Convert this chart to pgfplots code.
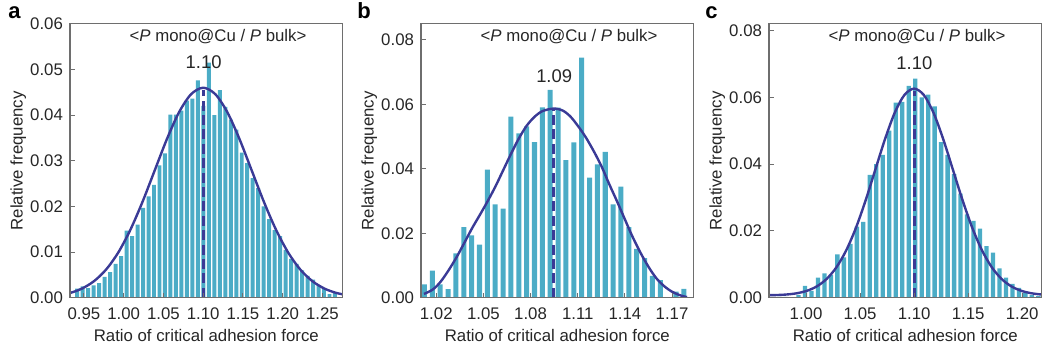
\documentclass[border=0pt]{standalone}
\usepackage{fontspec}
\setmainfont{Liberation Sans}
\usepackage{pgfplots}
\pgfplotsset{compat=1.18}
\definecolor{barc}{RGB}{75,172,198}
\definecolor{fitc}{RGB}{58,58,150}
\definecolor{axc}{RGB}{110,110,110}
\pgfplotsset{
 hist/.style={
  scale only axis, width=136.3pt, height=137pt, anchor=south west,
  axis on top,
  axis line style={axc, line width=0.6pt},
  tick style={axc, line width=0.5pt},
  tick align=inside, xtick pos=bottom, ytick pos=left,
  major tick length=2.5pt,
  ymin=0,
  font=\fontsize{8.4pt}{10pt}\selectfont,
  tick label style={text=black!85},
  /pgf/number format/assume math mode=true,
  xticklabel style={yshift=-1.5pt, /pgf/number format/.cd, fixed, fixed zerofill, precision=2},
  yticklabel style={/pgf/number format/.cd, fixed, fixed zerofill, precision=2},
  scaled x ticks=false, scaled y ticks=false,
  ylabel={Relative frequency},
  xlabel={Ratio of critical adhesion force},
  ylabel style={at={(axis description cs:-0.19,0.5)}, anchor=center, text=black!85},
  xlabel style={at={(axis description cs:0.5,-0.1595)}, anchor=base, text=black!85},
 },
 bars/.style={ybar, fill=barc, draw=none, bar shift=0pt},
 fit/.style={fitc, line width=1.2pt, smooth, no marks},
 mean/.style={fitc, line width=1.5pt, dash pattern=on 5pt off 2.2pt, no marks},
}
\begin{document}
\begin{tikzpicture}
\useasboundingbox (0,0) rectangle (522pt,175.5pt);
% ---------------- panel a
\begin{axis}[hist, at={(35pt,26.6pt)},
  xmin=0.9324, xmax=1.2754, ymax=0.06,
  xtick={0.95,1.00,1.05,1.10,1.15,1.20,1.25},
  ytick={0,0.01,0.02,0.03,0.04,0.05,0.06}]
\addplot[bars, bar width=0.0050] coordinates {
(0.9415,0.0020) (0.9484,0.0025) (0.9553,0.0021) (0.9622,0.0027) (0.9691,0.0032)
(0.9760,0.0046) (0.9829,0.0056) (0.9898,0.0074) (0.9967,0.0091) (1.0036,0.0147)
(1.0105,0.0135) (1.0174,0.0160) (1.0243,0.0197) (1.0312,0.0222) (1.0381,0.0247)
(1.0450,0.0290) (1.0519,0.0316) (1.0588,0.0401) (1.0657,0.0401) (1.0726,0.0410)
(1.0795,0.0432) (1.0864,0.0436) (1.0933,0.0476) (1.1002,0.0420) (1.1071,0.0515)
(1.1140,0.0400) (1.1209,0.0455) (1.1278,0.0418) (1.1347,0.0390) (1.1416,0.0368)
(1.1485,0.0318) (1.1554,0.0295) (1.1623,0.0262) (1.1692,0.0240) (1.1761,0.0200)
(1.1830,0.0172) (1.1899,0.0148) (1.1968,0.0135) (1.2037,0.0105) (1.2106,0.0085)
(1.2175,0.0074) (1.2244,0.0060) (1.2313,0.0048) (1.2382,0.0040) (1.2451,0.0028)
(1.2520,0.0020) (1.2589,0.0008) (1.2658,0.0010)};
\addplot[fit] coordinates {
(0.917,0.00051) (0.93225,0.00105) (0.9475,0.00202) (0.96275,0.00366) (0.978,0.00622)
(0.99325,0.00995) (1.0085,0.01494) (1.02375,0.02106) (1.039,0.0279) (1.05425,0.03472)
(1.0695,0.0406) (1.08475,0.04458) (1.10,0.046) (1.11525,0.04458) (1.1305,0.0406)
(1.14575,0.03472) (1.161,0.0279) (1.17625,0.02106) (1.1915,0.01494) (1.20675,0.00995)
(1.222,0.00622) (1.23725,0.00366) (1.2525,0.00202) (1.26775,0.00105) (1.283,0.00051)};
\addplot[mean] coordinates {(1.10,0) (1.10,0.0455)};
\node[font=\fontsize{8.4pt}{10pt}\selectfont, text=black!85] at (rel axis cs:0.543,0.953) {<\textit{P} mono@Cu / \textit{P} bulk>};
\node[font=\fontsize{9.2pt}{10pt}\selectfont, text=black!85] at (axis cs:1.1005,0.0515) {1.10};
\end{axis}
% ---------------- panel b
\begin{axis}[hist, at={(210.5pt,26.6pt)},
  xmin=1.0103, xmax=1.1837, ymax=0.085,
  xtick={1.02,1.05,1.08,1.11,1.14,1.17},
  ytick={0,0.02,0.04,0.06,0.08}]
\addplot[bars, bar width=0.0032] coordinates {
(1.0125,0.0042) (1.0175,0.0084) (1.0225,0.0042) (1.0275,0.0027) (1.0325,0.0138)
(1.0375,0.0219) (1.0425,0.0194) (1.0475,0.0165) (1.0525,0.0398) (1.0575,0.0290)
(1.0625,0.0277) (1.0675,0.0562) (1.0725,0.0510) (1.0775,0.0532) (1.0825,0.0483)
(1.0875,0.0591) (1.0925,0.0645) (1.0975,0.0590) (1.1025,0.0427) (1.1075,0.0482)
(1.1125,0.0745) (1.1175,0.0373) (1.1225,0.0414) (1.1275,0.0453) (1.1325,0.0290)
(1.1375,0.0345) (1.1425,0.0219) (1.1475,0.0152) (1.1525,0.0123) (1.1575,0.0068)
(1.1625,0.0055) (1.1725,0.0019) (1.1775,0.0028)};
\addplot[fit] coordinates {
(1.0122,0.0012) (1.0179,0.0026) (1.0228,0.0050) (1.0278,0.0085) (1.0327,0.0124)
(1.0376,0.0168) (1.0427,0.0215) (1.0476,0.0256) (1.0525,0.0298) (1.0576,0.0345)
(1.0625,0.0395) (1.0674,0.0445) (1.0725,0.0494) (1.0774,0.0533) (1.0824,0.0561)
(1.0875,0.0579) (1.0945,0.0587) (1.1004,0.0581) (1.1054,0.0562) (1.1103,0.0532)
(1.1151,0.0498) (1.1205,0.0452) (1.1253,0.0406) (1.1299,0.0354) (1.1352,0.0297)
(1.1401,0.0242) (1.1448,0.0190) (1.1501,0.0138) (1.1554,0.0093) (1.1601,0.0060)
(1.1650,0.0036) (1.1699,0.0019) (1.1750,0.0008) (1.1795,0.0002)};
\addplot[mean] coordinates {(1.0945,0) (1.0945,0.0582)};
\node[font=\fontsize{8.4pt}{10pt}\selectfont, text=black!85] at (rel axis cs:0.543,0.953) {<\textit{P} mono@Cu / \textit{P} bulk>};
\node[font=\fontsize{9.2pt}{10pt}\selectfont, text=black!85] at (axis cs:1.095,0.0687) {1.09};
\end{axis}
% ---------------- panel c
\begin{axis}[hist, at={(384.5pt,26.6pt)},
  xmin=0.9657, xmax=1.218, ymax=0.082,
  xtick={1.00,1.05,1.10,1.15,1.20},
  ytick={0,0.02,0.04,0.06,0.08}]
\addplot[bars, bar width=0.0040] coordinates {
(0.975,0.0003) (0.981,0.0003) (0.993,0.0008) (0.999,0.0036) (1.005,0.0021)
(1.011,0.0060) (1.017,0.0073) (1.023,0.0068) (1.029,0.0130) (1.035,0.0121)
(1.041,0.0161) (1.047,0.0213) (1.053,0.0227) (1.059,0.0368) (1.065,0.0400)
(1.071,0.0428) (1.077,0.0500) (1.083,0.0584) (1.089,0.0586) (1.095,0.0634)
(1.101,0.0656) (1.107,0.0600) (1.113,0.0608) (1.119,0.0573) (1.125,0.0466)
(1.131,0.0428) (1.137,0.0370) (1.143,0.0312) (1.149,0.0250) (1.155,0.0230)
(1.161,0.0207) (1.167,0.0155) (1.173,0.0135) (1.179,0.0088) (1.185,0.0060)
(1.191,0.0042) (1.197,0.0030) (1.203,0.0015) (1.209,0.0008) (1.215,0.0005)};
\addplot[fit] coordinates {
(0.956,0.0007) (0.974,0.00084) (0.983,0.00101) (0.992,0.00139) (1.001,0.00211)
(1.010,0.00342) (1.019,0.00563) (1.028,0.00908) (1.037,0.01409) (1.046,0.0208)
(1.055,0.02904) (1.064,0.03824) (1.073,0.04742) (1.082,0.05533) (1.091,0.06069)
(1.100,0.0626) (1.109,0.06069) (1.118,0.05533) (1.127,0.04742) (1.136,0.03824)
(1.145,0.02904) (1.154,0.0208) (1.163,0.01409) (1.172,0.00908) (1.181,0.00563)
(1.190,0.00342) (1.199,0.00211) (1.208,0.00139) (1.217,0.00101) (1.226,0.00084)};
\addplot[mean] coordinates {(1.10,0) (1.10,0.0620)};
\node[font=\fontsize{8.4pt}{10pt}\selectfont, text=black!85] at (rel axis cs:0.543,0.953) {<\textit{P} mono@Cu / \textit{P} bulk>};
\node[font=\fontsize{9.2pt}{10pt}\selectfont, text=black!85] at (axis cs:1.1002,0.0702) {1.10};
\end{axis}
% panel letters
\node[anchor=base west, inner sep=0, font=\bfseries\fontsize{11pt}{12pt}\selectfont] at (4pt,166.3pt) {a};
\node[anchor=base west, inner sep=0, font=\bfseries\fontsize{11pt}{12pt}\selectfont] at (178.5pt,166.3pt) {b};
\node[anchor=base west, inner sep=0, font=\bfseries\fontsize{11pt}{12pt}\selectfont] at (352.5pt,166.3pt) {c};
\end{tikzpicture}
\end{document}
